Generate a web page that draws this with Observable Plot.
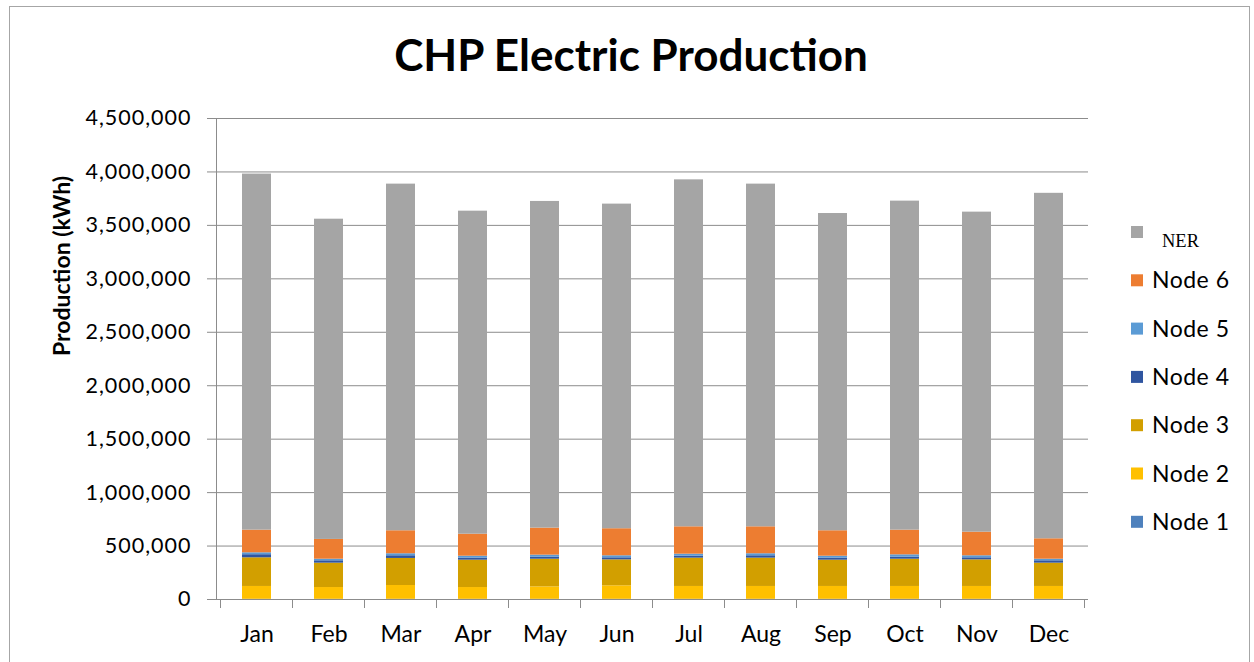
<!DOCTYPE html>
<html>
<head>
<meta charset="utf-8">
<script src="https://cdn.jsdelivr.net/npm/d3@7"></script>
<script src="https://cdn.jsdelivr.net/npm/@observablehq/plot@0.6"></script>
<style>
  html, body { margin: 0; padding: 0; background: #fff; }
  #chart svg { display: block; }
  g[aria-label="y-axis tick label"] text { letter-spacing: 1px; }
</style>
</head>
<body>
<div id="chart"></div>
<script>
const months = ["Jan","Feb","Mar","Apr","May","Jun","Jul","Aug","Sep","Oct","Nov","Dec"];
const seriesNames = ["Node 1","Node 2","Node 3","Node 4","Node 5","Node 6","NER"];
const seriesColors = ["#4e81bd","#ffc000","#d29f00","#2f55a0","#5b9bd5","#ed7d31","#a5a5a5"];
const node1 = [2000, 2000, 2000, 2000, 2000, 2000, 2000, 2000, 2000, 2000, 2000, 2000];
const node2 = [120000, 110000, 129000, 110000, 116000, 126000, 120000, 120000, 120000, 120000, 120000, 120000];
const node3 = [268000, 228000, 253000, 256000, 259000, 243000, 265000, 265000, 246000, 255000, 249000, 218000];
const node4 = [29000, 22000, 25000, 19000, 19000, 19000, 18000, 22000, 19000, 19000, 19000, 22000];
const node5 = [18000, 15000, 19000, 18000, 19000, 19000, 19000, 19000, 18000, 22000, 19000, 15000];
const node6 = [212000, 185000, 215000, 206000, 253000, 253000, 256000, 252000, 238000, 231000, 221000, 191000];
const ner = [3331000, 2996000, 3243000, 3022000, 3056000, 3037000, 3246000, 3206000, 2968000, 3078000, 2994000, 3232000];
const yTicks = [0, 500000, 1000000, 1500000, 2000000, 2500000, 3000000, 3500000, 4000000, 4500000];
const title = "CHP Electric Production";
const yLabel = "Production (kWh)";

const seriesValues = [node1, node2, node3, node4, node5, node6, ner];
const data = [];
seriesNames.forEach((s, si) => {
  months.forEach((m, mi) => data.push({month: m, series: s, value: seriesValues[si][mi]}));
});

const W = 1254, H = 662;
const gridColor = "#8c8c8c";
const font = "Lato, 'Open Sans', sans-serif";

const plot = Plot.plot({
  width: W,
  height: H,
  marginLeft: 216,
  marginRight: 166,
  marginTop: 118,
  marginBottom: 63,
  style: {fontFamily: font, background: "#fff", color: "#000", overflow: "visible"},
  x: {domain: months, paddingInner: 0.6, paddingOuter: 0.3, axis: null},
  y: {domain: [0, 4500000], axis: null},
  color: {domain: seriesNames, range: seriesColors},
  marks: [
    Plot.gridY(yTicks, {stroke: gridColor, strokeOpacity: 1, strokeWidth: 1}),
    Plot.axisY(yTicks, {tickSize: 9, tickPadding: 16, tickFormat: d3.format(","), fontSize: 21.5, stroke: gridColor, fill: "#000", label: null}),
    Plot.frame({anchor: "left", stroke: gridColor}),
    Plot.barY(data, {x: "month", y: "value", fill: "series", order: seriesNames}),
    Plot.axisX({tickSize: 0, tickPadding: 26, fontSize: 23, fill: "#000", label: null}),
    Plot.text([yLabel], {frameAnchor: "left", dx: -154, dy: -3, rotate: -90, fontWeight: "bold", fontSize: 23, fill: "#000"})
  ]
});

document.getElementById("chart").appendChild(plot);

const svg = d3.select(plot);
const xs = plot.scale("x");
const ys = plot.scale("y");
const y0 = ys.apply(0);
// category boundary ticks
const boundaries = months.map(m => xs.apply(m) + xs.bandwidth / 2 - xs.step / 2);
boundaries.push(xs.apply(months[months.length - 1]) + xs.bandwidth / 2 + xs.step / 2);
svg.append("g").selectAll("line").data(boundaries).join("line")
  .attr("x1", d => d).attr("x2", d => d)
  .attr("y1", y0).attr("y2", y0 + 9)
  .attr("stroke", gridColor);

// border
svg.append("rect").attr("x", 9.5).attr("y", 6.5).attr("width", 1240).attr("height", 700)
  .attr("fill", "none").attr("stroke", "#a6a6a6");

// title
svg.append("text").attr("x", 631).attr("y", 71).attr("text-anchor", "middle")
  .attr("font-family", font).attr("font-weight", "bold").attr("font-size", 44)
  .attr("fill", "#000").text(title);

// legend (top of stack first)
const legendOrder = seriesNames.slice().reverse();
const lg = svg.append("g").attr("text-anchor", "start");
legendOrder.forEach((s, i) => {
  const cy = 232 + i * 48.3;
  const color = seriesColors[seriesNames.indexOf(s)];
  lg.append("rect").attr("x", 1131).attr("y", cy - 6).attr("width", 12).attr("height", 12).attr("fill", color);
  if (s === "NER") {
    lg.append("text").attr("x", 1162).attr("y", cy + 15).attr("text-anchor", "start")
      .attr("font-family", "'Liberation Serif', 'Times New Roman', serif").attr("font-size", 18.5)
      .attr("fill", "#000").text(s);
  } else {
    lg.append("text").attr("x", 1152).attr("y", cy + 8).attr("text-anchor", "start")
      .attr("font-family", font).attr("font-size", 23).style("letter-spacing", "0.5px")
      .attr("fill", "#000").text(s);
  }
});
</script>
</body>
</html>
